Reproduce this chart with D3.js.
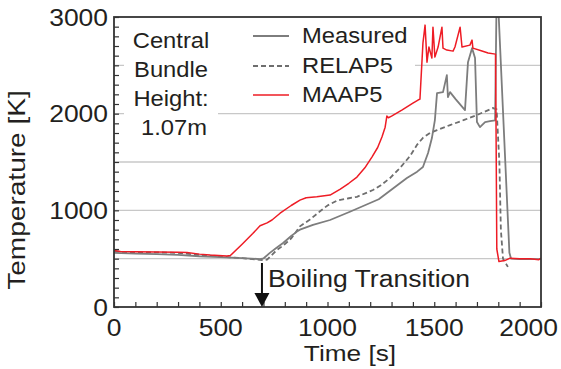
<!DOCTYPE html>
<html>
<head>
<meta charset="utf-8">
<script src="https://cdn.jsdelivr.net/npm/d3@7"></script>
<style>
  body { margin: 0; background: #fff; }
  svg { display: block; font-family: "Liberation Sans", Arial, sans-serif; }
</style>
</head>
<body>
<svg id="chart"></svg>
<script>
const width = 561;
const height = 369;

// plot box in pixels
const plotLeft = 114, plotRight = 541, plotTop = 17, plotBottom = 307;

const xTicks = [0, 500, 1000, 1500, 2000];
const yTicks = [0, 1000, 2000, 3000];
const gridValues = [500, 1000, 1500, 2000, 2500];

const noteLines = ['Central', 'Bundle', 'Height:', '1.07m'];
const seriesNames = ['Measured', 'RELAP5', 'MAAP5'];

// [time s, temperature K]
const measured = [
  [0, 560], [100, 552], [200, 548], [300, 540], [400, 525], [500, 515], [600, 505],
  [684, 496], [700, 502], [730, 560], [760, 610], [792, 662], [830, 735], [857, 780],
  [871, 800], [932, 850], [1012, 900], [1105, 985], [1240, 1115], [1330, 1265],
  [1372, 1334], [1420, 1400], [1447, 1448], [1471, 1593], [1489, 1748], [1503, 1934],
  [1513, 2213], [1541, 2223], [1559, 2399], [1564, 2172], [1574, 2223], [1600, 2150],
  [1644, 2037], [1658, 2533], [1677, 2678], [1691, 2575], [1700, 1913], [1714, 1861],
  [1738, 1913], [1761, 1923], [1785, 1930], [1792, 3200], [1798, 3200], [1852, 560],
  [1860, 500], [1900, 495], [2000, 495]
];

const relap5 = [
  [0, 575], [100, 565], [200, 565], [295, 560], [400, 540], [529, 517], [600, 505],
  [698, 486], [717, 490], [740, 540], [763, 590], [792, 635], [830, 710], [857, 790],
  [871, 835], [918, 905], [965, 990], [1000, 1050], [1044, 1100], [1100, 1125],
  [1138, 1140], [1213, 1210], [1250, 1260], [1293, 1334], [1340, 1440], [1386, 1560],
  [1420, 1680], [1447, 1750], [1480, 1800], [1513, 1830], [1574, 1882], [1640, 1935],
  [1700, 1986], [1775, 2058], [1792, 2045], [1805, 1500], [1812, 800], [1822, 500],
  [1845, 415]
];

const maap5 = [
  [0, 585], [30, 575], [100, 572], [200, 570], [300, 566], [342, 565], [400, 547],
  [450, 537], [529, 527], [545, 532], [600, 650], [650, 760], [684, 840], [717, 870],
  [740, 900], [778, 970], [830, 1050], [871, 1106], [900, 1130], [950, 1140],
  [1012, 1158], [1060, 1220], [1100, 1280], [1138, 1344], [1175, 1440], [1208, 1551],
  [1235, 1650], [1255, 1758], [1270, 1860], [1278, 1975], [1285, 1958], [1300, 1975],
  [1350, 2040], [1400, 2110], [1424, 2141], [1433, 2150], [1447, 2730], [1457, 2916],
  [1466, 2533], [1475, 2689], [1489, 2575], [1494, 2895], [1503, 2585], [1518, 2689],
  [1536, 2895], [1541, 2678], [1559, 2658], [1588, 2647], [1597, 2690], [1621, 2895],
  [1630, 2689], [1667, 2709], [1677, 2761], [1681, 2678], [1720, 2650], [1752, 2627],
  [1787, 2616], [1789, 2000], [1793, 600], [1803, 470], [1830, 480], [1855, 505],
  [1900, 500], [1950, 500], [1990, 490], [2000, 505]
];

const textColor = '#231f20';
const red = '#ee1c25';
const gray = '#7d7d7d';

const svg = d3.select('#chart').attr('width', width).attr('height', height);
svg.append('rect').attr('width', width).attr('height', height).attr('fill', '#fff');

const x = d3.scaleLinear().domain([0, 2000]).range([plotLeft, plotRight]);
const y = d3.scaleLinear().domain([0, 3000]).range([plotBottom, plotTop]);

// text drawn a bit wider than Liberation Sans to match the original face
function label(str, px, py, size, sx, anchor, rot) {
  const g = svg.append('g')
    .attr('transform', `translate(${px},${py}) rotate(${rot || 0}) scale(${sx},1)`);
  return g.append('text')
    .attr('text-anchor', anchor || 'start')
    .attr('font-size', size)
    .attr('fill', textColor)
    .text(str);
}

// grid
svg.append('g').selectAll('line')
  .data(gridValues)
  .enter()
  .append('line')
  .attr('x1', plotLeft).attr('x2', plotRight)
  .attr('y1', d => y(d)).attr('y2', d => y(d))
  .attr('stroke', '#c8c8c8')
  .attr('stroke-width', 1.3);

// white boxes behind note and legend
svg.append('rect').attr('x', 124).attr('y', plotTop + 1).attr('width', 94).attr('height', 125).attr('fill', '#fff');
svg.append('rect').attr('x', 218).attr('y', plotTop + 1).attr('width', 197).attr('height', 84).attr('fill', '#fff');

// data lines
svg.append('clipPath').attr('id', 'clip')
  .append('rect').attr('x', plotLeft).attr('y', plotTop)
  .attr('width', plotRight - plotLeft).attr('height', plotBottom - plotTop);

const line = d3.line().x(d => x(d[0])).y(d => y(d[1]));
const plot = svg.append('g').attr('clip-path', 'url(#clip)');

plot.append('path').datum(relap5)
  .attr('fill', 'none').attr('stroke', '#6e6e6e').attr('stroke-width', 1.8)
  .attr('stroke-dasharray', '5,3').attr('d', line);
plot.append('path').datum(measured)
  .attr('fill', 'none').attr('stroke', gray).attr('stroke-width', 1.8)
  .attr('stroke-linejoin', 'round').attr('d', line);
plot.append('path').datum(maap5)
  .attr('fill', 'none').attr('stroke', red).attr('stroke-width', 1.5)
  .attr('stroke-linejoin', 'round').attr('d', line);

// axes: minor ticks every 100, pointing inward
const xAxis = svg.append('g').attr('transform', `translate(0,${plotBottom})`)
  .call(d3.axisBottom(x).tickValues(d3.range(0, 2001, 100)).tickSize(-5).tickFormat(''));
const yAxis = svg.append('g').attr('transform', `translate(${plotLeft},0)`)
  .call(d3.axisLeft(y).tickValues(d3.range(0, 3001, 100)).tickSize(-5).tickFormat(''));
[xAxis, yAxis].forEach(a => {
  a.select('.domain').remove();
  a.selectAll('line').attr('stroke', '#333').attr('stroke-width', 1.2);
});

// frame
svg.append('rect')
  .attr('x', plotLeft).attr('y', plotTop)
  .attr('width', plotRight - plotLeft).attr('height', plotBottom - plotTop)
  .attr('fill', 'none').attr('stroke', '#333').attr('stroke-width', 1.8);

// tick labels
yTicks.forEach(v => label(String(v), 108, y(v) + 8.5, 23, 1.15, 'end'));
xTicks.forEach(v => {
  if (v === 2000) label(String(v), 558, 336, 23, 1.15, 'end');
  else label(String(v), x(v), 336, 23, 1.15, 'middle');
});

// axis titles
label('Time [s]', 350, 361, 21.5, 1.22, 'middle');
label('Temperature [K]', 25, 190, 23, 1.22, 'middle', -90);

// note
noteLines.forEach((s, i) => label(s, i === 3 ? 174 : 171, 48 + i * 29, 22, 1.08, 'middle'));

// legend
const legendY = [36, 66, 95];
const legendStyle = [
  { stroke: gray, dash: null, w: 1.8 },
  { stroke: '#6e6e6e', dash: '5,3', w: 1.8 },
  { stroke: red, dash: null, w: 1.5 }
];
seriesNames.forEach((s, i) => {
  svg.append('line')
    .attr('x1', 253).attr('x2', 289)
    .attr('y1', legendY[i]).attr('y2', legendY[i])
    .attr('stroke', legendStyle[i].stroke)
    .attr('stroke-width', legendStyle[i].w)
    .attr('stroke-dasharray', legendStyle[i].dash);
  label(s, 302, legendY[i] + 7, 22, 1.08, 'start');
});

// boiling transition arrow
const bt = 693;
svg.append('line')
  .attr('x1', x(bt)).attr('x2', x(bt))
  .attr('y1', 263).attr('y2', plotBottom - 10)
  .attr('stroke', '#111').attr('stroke-width', 2);
svg.append('path')
  .attr('d', `M${x(bt) - 7.5},${plotBottom - 14} L${x(bt) + 7.5},${plotBottom - 14} L${x(bt)},${plotBottom} Z`)
  .attr('fill', '#111');
label('Boiling Transition', 268, 287, 23.5, 1.13, 'start');
</script>
</body>
</html>
